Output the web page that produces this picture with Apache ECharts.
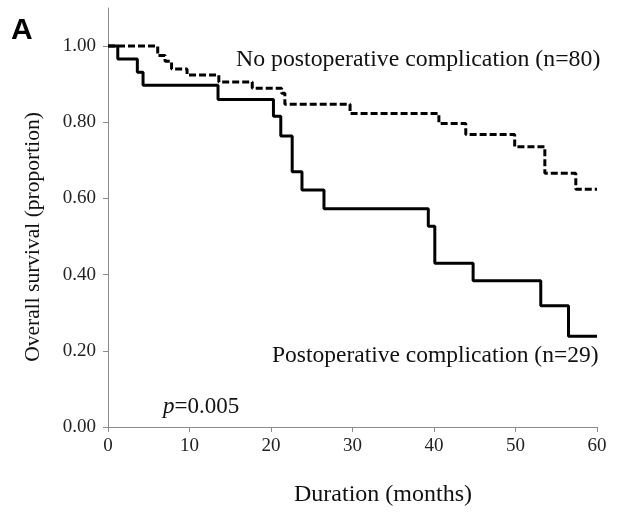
<!DOCTYPE html>
<html>
<head>
<meta charset="utf-8">
<script src="https://cdn.jsdelivr.net/npm/echarts@6/dist/echarts.min.js"></script>
<style>
  html, body { margin: 0; padding: 0; background: #fff; }
  #chart { width: 622px; height: 514px; }
</style>
</head>
<body>
<div id="chart"></div>
<script>
// Kaplan-Meier steps: [month, survival proportion]
const noCompTimes = [0, 6.1, 7.0, 7.8, 9.7, 13.6, 17.7, 21.3, 21.7, 29.7, 40.6, 43.9, 49.9, 53.6, 57.4, 60];
const noCompSurv  = [1.0, 0.975, 0.96, 0.94, 0.924, 0.906, 0.889, 0.876, 0.847, 0.823, 0.797, 0.768, 0.736, 0.666, 0.624, 0.624];

const compTimes = [0, 1.2, 3.6, 4.3, 13.5, 20.3, 21.2, 22.6, 23.8, 26.5, 39.3, 40.1, 44.8, 53.1, 56.5, 60];
const compSurv  = [1.0, 0.966, 0.931, 0.897, 0.860, 0.816, 0.764, 0.670, 0.622, 0.573, 0.527, 0.430, 0.384, 0.318, 0.238, 0.238];

const yTicks = [0, 0.2, 0.4, 0.6, 0.8, 1.0];
const xTicks = [0, 10, 20, 30, 40, 50, 60];

const serif = '"Liberation Serif", "DejaVu Serif", serif';

const chart = echarts.init(document.getElementById('chart'));

const toPairs = (xs, ys) => xs.map((x, i) => [x, ys[i]]);

const option = {
  backgroundColor: '#fff',
  animation: false,
  grid: { left: 108, right: 25, top: 8, bottom: 87 },
  xAxis: {
    type: 'value',
    min: 0,
    max: 60,
    interval: 10,
    axisLine: { lineStyle: { color: '#8c8c8c', width: 1 } },
    axisTick: { show: true, length: 5, lineStyle: { color: '#8c8c8c' }, customValues: xTicks },
    axisLabel: { margin: 10, color: '#222', fontFamily: serif, fontSize: 19, customValues: xTicks },
    splitLine: { show: false }
  },
  yAxis: {
    type: 'value',
    min: 0,
    max: 1.1,
    axisLine: { show: true, lineStyle: { color: '#8c8c8c', width: 1 } },
    axisTick: { show: true, length: 5, lineStyle: { color: '#8c8c8c' }, customValues: yTicks },
    axisLabel: {
      margin: 12,
      color: '#222',
      fontFamily: serif,
      fontSize: 19,
      customValues: yTicks,
      formatter: v => v.toFixed(2)
    },
    splitLine: { show: false }
  },
  series: [
    {
      name: 'No postoperative complication',
      type: 'line',
      step: 'end',
      symbol: 'none',
      data: toPairs(noCompTimes, noCompSurv),
      lineStyle: { color: '#000', width: 3, type: [7, 3] },
      z: 2
    },
    {
      name: 'Postoperative complication',
      type: 'line',
      step: 'end',
      symbol: 'none',
      data: toPairs(compTimes, compSurv),
      lineStyle: { color: '#000', width: 3 },
      z: 3
    }
  ],
  graphic: [
    {
      type: 'text', x: 11, y: 16,
      style: { text: 'A', font: 'bold 30px "Liberation Sans", Arial, sans-serif', fill: '#000' }
    },
    {
      type: 'text', x: 236, y: 60,
      style: { text: 'No postoperative complication (n=80)', font: '23.8px ' + serif, fill: '#111', textVerticalAlign: 'middle' }
    },
    {
      type: 'text', x: 272, y: 356,
      style: { text: 'Postoperative complication (n=29)', font: '23.5px ' + serif, fill: '#111', textVerticalAlign: 'middle' }
    },
    {
      type: 'text', x: 163, y: 407,
      style: {
        text: '{i|p}=0.005',
        fill: '#111',
        textVerticalAlign: 'middle',
        rich: {
          i: { fontFamily: serif, fontStyle: 'italic', fontSize: 23 }
        },
        font: '23px ' + serif
      }
    },
    {
      type: 'text', x: 383, y: 495,
      style: { text: 'Duration (months)', font: '24px ' + serif, fill: '#111', textAlign: 'center', textVerticalAlign: 'middle' }
    },
    {
      type: 'text', x: 33, y: 237, rotation: Math.PI / 2,
      style: { text: 'Overall survival (proportion)', font: '21.5px ' + serif, fill: '#111', textAlign: 'center', textVerticalAlign: 'middle' }
    }
  ]
};

chart.setOption(option);
</script>
</body>
</html>
